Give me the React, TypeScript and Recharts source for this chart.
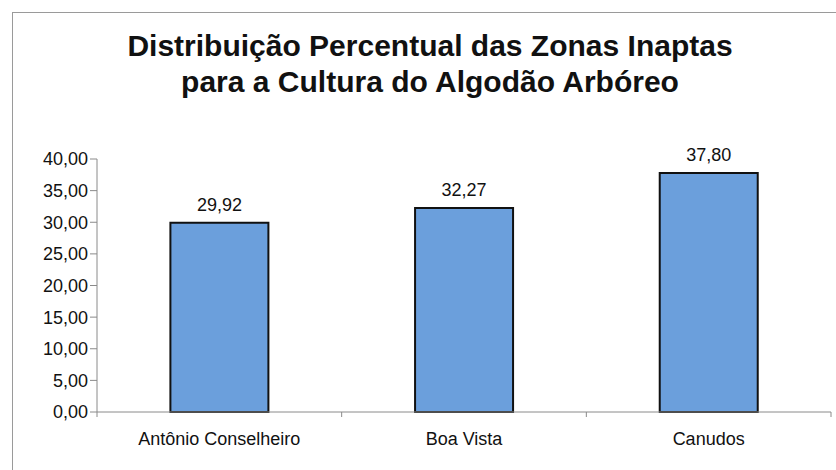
import React from "react";
import {
  BarChart,
  Bar,
  XAxis,
  YAxis,
  LabelList,
} from "recharts";

const municipios = ["Antônio Conselheiro", "Boa Vista", "Canudos"];
const percentuais = [29.92, 32.27, 37.8];
const yTicks = [0, 5, 10, 15, 20, 25, 30, 35, 40];

const TITLE_1 = "Distribuição Percentual das Zonas Inaptas";
const TITLE_2 = "para a Cultura do Algodão Arbóreo";

const FONT = "'Liberation Sans', Arial, sans-serif";
const AXIS = "#8a8a8a";
const TICK_SIZE = 6;
const TICK_MARGIN = 14;
const fmt = (v: number) => v.toFixed(2).replace(".", ",");

// Excel style: tick marks sit between the categories, label in the middle
const CategoryTick = (props: any) => {
  const { x, y, payload, index, visibleTicksCount } = props;
  const half = payload && payload.offset ? payload.offset : 0;
  const axisY = y - TICK_SIZE - TICK_MARGIN;
  const last = index === (visibleTicksCount ?? municipios.length) - 1;
  return (
    <g>
      <line x1={x - half} x2={x - half} y1={axisY} y2={axisY + 5} stroke={AXIS} />
      {last && <line x1={x + half} x2={x + half} y1={axisY} y2={axisY + 5} stroke={AXIS} />}
      <text x={x} y={y} dy="0.71em" textAnchor="middle" fill="#111" fontSize={18} fontFamily={FONT}>
        {payload.value}
      </text>
    </g>
  );
};

export default function App() {
  const data = municipios.map((name, i) => ({ name, value: percentuais[i] }));

  return (
    <div
      style={{
        position: "absolute",
        left: 0,
        top: 0,
        width: 836,
        height: 470,
        background: "#fff",
        fontFamily: FONT,
        overflow: "hidden",
      }}
    >
      {/* frame of the scanned chart */}
      <div
        style={{
          position: "absolute",
          left: 12,
          top: 12,
          width: 900,
          height: 600,
          borderLeft: "1px solid #9a9a9a",
          borderTop: "1px solid #9a9a9a",
        }}
      />
      <div
        style={{
          position: "absolute",
          left: 0,
          top: 28,
          width: 860,
          textAlign: "center",
          fontWeight: "bold",
          fontSize: 30,
          lineHeight: "36px",
          color: "#111",
        }}
      >
        <div>{TITLE_1}</div>
        <div>{TITLE_2}</div>
      </div>
      <div style={{ position: "absolute", left: 0, top: 0 }}>
        <BarChart
          width={836}
          height={470}
          data={data}
          margin={{ top: 159, right: 5, bottom: 28, left: 12 }}
          barCategoryGap="30%"
        >
          <XAxis
            dataKey="name"
            height={30}
            interval={0}
            axisLine={{ stroke: AXIS }}
            tickLine={false}
            tickSize={TICK_SIZE}
            tickMargin={TICK_MARGIN}
            tick={<CategoryTick />}
          />
          <YAxis
            domain={[0, 40]}
            ticks={yTicks}
            interval={0}
            width={85}
            tickFormatter={fmt}
            axisLine={{ stroke: AXIS }}
            tickLine={{ stroke: AXIS }}
            tickSize={7}
            tick={{ fill: "#111", fontSize: 18, fontFamily: FONT }}
          />
          <Bar
            dataKey="value"
            fill="#6b9fdc"
            stroke="#111"
            strokeWidth={2}
            isAnimationActive={false}
          >
            <LabelList
              dataKey="value"
              position="top"
              offset={12}
              formatter={(v: number) => fmt(v)}
              style={{ fill: "#111", fontSize: 18, fontFamily: FONT }}
            />
          </Bar>
        </BarChart>
      </div>
    </div>
  );
}
